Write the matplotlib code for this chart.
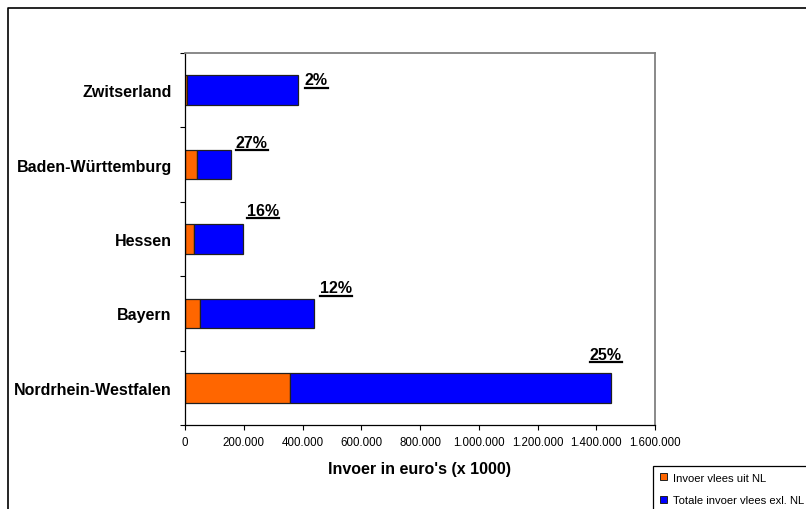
import matplotlib
matplotlib.use("Agg")
import matplotlib.pyplot as plt
from matplotlib.patches import Patch, Rectangle
from matplotlib.lines import Line2D
from matplotlib.ticker import FuncFormatter, FixedLocator

plt.rcParams['font.family'] = ['Liberation Sans', 'DejaVu Sans']

# Import data (euro x 1000)
regions = ["Nordrhein-Westfalen", "Bayern", "Hessen", "Baden-Württemburg", "Zwitserland"]
import_nl = [358000, 52000, 32000, 42000, 7700]
import_excl_nl = [1092000, 386000, 165000, 114000, 378000]
share_labels = ["25%", "12%", "16%", "27%", "2%"]

# label placement relative to bar end / category centre (pixels)
label_dx = [-5, 22, 20, 21, 18]
label_dy = [29, 21, 24, 18, 6]

W, H = 806, 510
fig = plt.figure(figsize=(W / 100, H / 100), dpi=100)
ax = fig.add_axes([185 / W, 1 - 426 / H, (655 - 185) / W, (426 - 54) / H])

ypos = list(range(len(regions)))
bar_h = 0.40
ax.barh(ypos, import_nl, height=bar_h, color="#FF6600", edgecolor="#202020", linewidth=0.9)
ax.barh(ypos, import_excl_nl, left=import_nl, height=bar_h, color="#0000FF",
        edgecolor="#202020", linewidth=0.9)

ax.set_xlim(0, 1600000)
ax.set_ylim(-0.5, len(regions) - 0.5)

ax.set_xticks(range(0, 1600001, 200000))
ax.xaxis.set_major_formatter(FuncFormatter(lambda v, p: f"{int(v):,}".replace(",", ".")))
ax.tick_params(axis="x", direction="out", length=5 * 0.72, width=0.8, labelsize=8.3, pad=4)

ax.set_yticks(ypos)
ax.set_yticklabels(regions, fontsize=11.5, fontweight="bold")
ax.tick_params(axis="y", which="major", length=0, pad=9.5)
ax.yaxis.set_minor_locator(FixedLocator([i - 0.5 for i in range(len(regions) + 1)]))
ax.tick_params(axis="y", which="minor", direction="out", length=5 * 0.72, width=0.8)

for side in ("left", "bottom"):
    ax.spines[side].set_color("black")
    ax.spines[side].set_linewidth(0.9)
for side in ("top", "right"):
    ax.spines[side].set_color("#808080")
    ax.spines[side].set_linewidth(1.3)

ax.set_xlabel("Invoer in euro's (x 1000)", fontsize=11.5, fontweight="bold", labelpad=10)

# percentage labels, bold and underlined
texts = []
for i, lab in enumerate(share_labels):
    total = import_nl[i] + import_excl_nl[i]
    t = ax.annotate(lab, xy=(total, ypos[i]), xytext=(label_dx[i], label_dy[i]),
                    textcoords="offset pixels", ha="center", va="baseline",
                    fontsize=11.5, fontweight="bold", color="black")
    texts.append((t, total, ypos[i], label_dy[i]))

fig.canvas.draw()
renderer = fig.canvas.get_renderer()
for t, xv, yv, dy in texts:
    bb = t.get_window_extent(renderer)
    base_y = ax.transData.transform((xv, yv))[1] + dy
    yline = base_y - 3.3
    fig.add_artist(Line2D([bb.x0 / W, bb.x1 / W], [yline / H, yline / H],
                          transform=fig.transFigure, color="black", linewidth=1.6))

# outer frame
fig.add_artist(Line2D([8 / W, 8 / W, 1.01], [-0.01, 1 - 9 / H, 1 - 9 / H],
                      transform=fig.transFigure, color="black", linewidth=1.2))

# legend box running past the right and bottom edges
fig.add_artist(Rectangle((653 / W, -0.05), 0.3, (1 - 467 / H) + 0.05,
                         transform=fig.transFigure, facecolor="white",
                         edgecolor="black", linewidth=0.9, zorder=3))
handles = [Patch(facecolor="#FF6600", edgecolor="#202020", linewidth=0.7),
           Patch(facecolor="#0000FF", edgecolor="#202020", linewidth=0.7)]
leg = fig.legend(handles, ["Invoer vlees uit NL", "Totale invoer vlees exl. NL"],
                 loc="upper left", bbox_to_anchor=(653 / W, 1 - 467 / H),
                 bbox_transform=fig.transFigure, borderaxespad=0, fontsize=8.1,
                 frameon=False, handlelength=0.6, handleheight=0.6, handletextpad=0.6,
                 labelspacing=1.1, borderpad=0.6)
leg.set_zorder(4)

fig.savefig("out.png", dpi=100)
